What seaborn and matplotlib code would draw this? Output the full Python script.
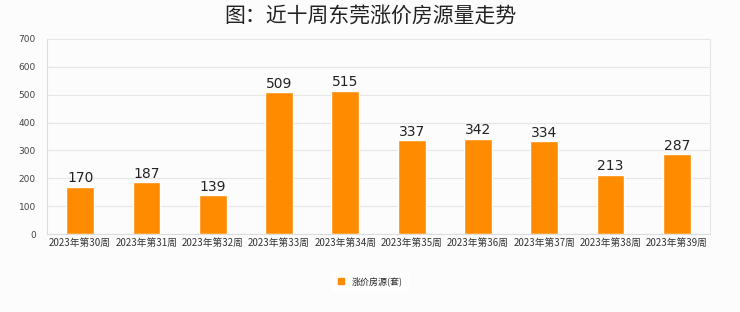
import matplotlib
matplotlib.use("Agg")
import matplotlib.pyplot as plt
import seaborn as sns
import pandas as pd
from matplotlib.patches import Patch

weeks = ["2023年第30周", "2023年第31周", "2023年第32周", "2023年第33周", "2023年第34周",
         "2023年第35周", "2023年第36周", "2023年第37周", "2023年第38周", "2023年第39周"]
values = [170, 187, 139, 509, 515, 337, 342, 334, 213, 287]
series_name = "涨价房源(套)"
title = "图：近十周东莞涨价房源量走势"
yticks = [0, 100, 200, 300, 400, 500, 600, 700]

sns.set_theme(style="white")
plt.rcParams['font.family'] = ['Noto Sans CJK SC', 'DejaVu Sans']

df = pd.DataFrame({"week": weeks, "value": values, "series": series_name})

bg = "#fcfcfc"
fig = plt.figure(figsize=(7.4, 3.12), dpi=100, facecolor=bg)
ax = fig.add_axes([47/740, 1 - 234/312, 663/740, 195/312])
ax.set_facecolor(bg)

sns.barplot(data=df, x="week", y="value", hue="series", palette=["#ff8c00"],
            width=0.42, ax=ax, legend=False, saturation=1)

for i, v in enumerate(values):
    ax.text(i, v + 5, str(v), ha="center", va="bottom", fontsize=10,
            color="#222222", family="DejaVu Sans")

ax.set_ylim(0, 700)
ax.set_xlim(-0.5, len(weeks) - 0.5)
ax.set_yticks(yticks)
ax.set_yticklabels([str(t) for t in yticks], fontsize=6.5, color="#444444",
                   family="DejaVu Sans")
ax.tick_params(axis="x", labelsize=7, colors="#333333", length=0, pad=3)
ax.tick_params(axis="y", length=0, pad=8)
ax.set_xlabel("")
ax.set_ylabel("")
ax.grid(axis="y", color="#e6e6e6", linewidth=0.8)
ax.set_axisbelow(True)
ax.spines["top"].set_visible(False)
for s in ["left", "bottom"]:
    ax.spines[s].set_color("#dddddd")
    ax.spines[s].set_linewidth(0.8)
ax.spines["right"].set_color("#e6e6e6")
ax.spines["right"].set_linewidth(0.8)

fig.text(0.5, 1 - 16/312, title, ha="center", va="center", fontsize=15,
         fontweight="medium", color="#222222")

handles = [Patch(facecolor="#ff8c00", edgecolor="#ff8c00", label=series_name)]
leg = fig.legend(handles=handles, loc="center", bbox_to_anchor=(0.5, 1 - 281/312),
                 frameon=True, fontsize=6.5, handlelength=0.7, handleheight=0.7,
                 handletextpad=0.8, borderpad=0.6)
leg.get_frame().set_facecolor("white")
leg.get_frame().set_edgecolor("white")

fig.savefig("out.png", dpi=100, facecolor=bg)
